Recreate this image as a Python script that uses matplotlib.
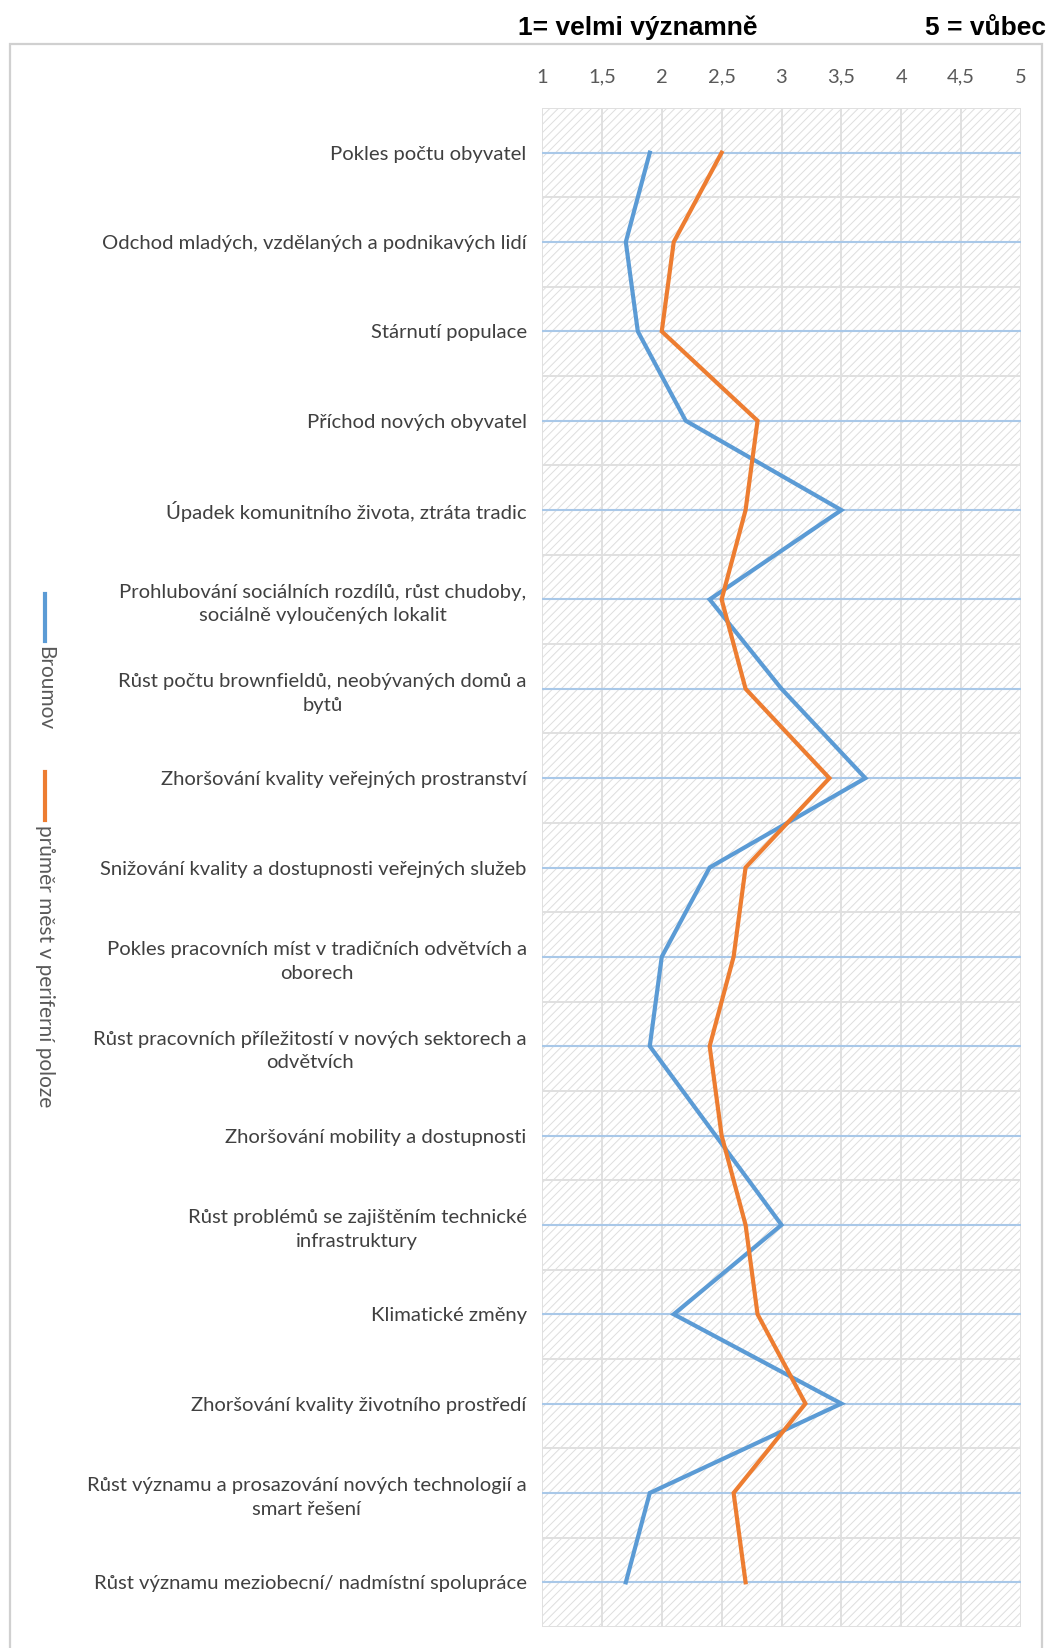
import matplotlib
matplotlib.use("Agg")
import matplotlib.pyplot as plt
from matplotlib.patches import Rectangle
from matplotlib.lines import Line2D
import numpy as np

categories = [
    "Pokles počtu obyvatel",
    "Odchod mladých, vzdělaných a podnikavých lidí",
    "Stárnutí populace",
    "Příchod nových obyvatel",
    "Úpadek komunitního života, ztráta tradic",
    "Prohlubování sociálních rozdílů, růst chudoby,\nsociálně vyloučených lokalit",
    "Růst počtu brownfieldů, neobývaných domů a\nbytů",
    "Zhoršování kvality veřejných prostranství",
    "Snižování kvality a dostupnosti veřejných služeb",
    "Pokles pracovních míst v tradičních odvětvích a\noborech",
    "Růst pracovních příležitostí v nových sektorech a\nodvětvích",
    "Zhoršování mobility a dostupnosti",
    "Růst problémů se zajištěním technické\ninfrastruktury",
    "Klimatické změny",
    "Zhoršování kvality životního prostředí",
    "Růst významu a prosazování nových technologií a\nsmart řešení",
    "Růst významu meziobecní/ nadmístní spolupráce",
]
broumov = [1.9, 1.7, 1.8, 2.2, 3.5, 2.4, 3.0, 3.7, 2.4, 2.0, 1.9, 2.45, 3.0, 2.1, 3.5, 1.9, 1.7]
prumer = [2.5, 2.1, 2.0, 2.8, 2.7, 2.5, 2.7, 3.4, 2.7, 2.6, 2.4, 2.5, 2.7, 2.8, 3.2, 2.6, 2.7]
x_ticks = [1, 1.5, 2, 2.5, 3, 3.5, 4, 4.5, 5]
x_labels = ["1", "1,5", "2", "2,5", "3", "3,5", "4", "4,5", "5"]

W, H = 1049, 1648
fig = plt.figure(figsize=(W / 100, H / 100), dpi=100)
plt.rcParams['hatch.color'] = '#dedede'
plt.rcParams['hatch.linewidth'] = 0.7

# outer frame
fig.patches.append(Rectangle((10 / W, -0.01), 1032 / W, 1 - 44 / H + 0.01,
                             transform=fig.transFigure, fill=False,
                             edgecolor='#d0d0d0', lw=1.6))

ax = fig.add_axes([542 / W, 1 - 1627 / H, 479 / W, 1519 / H])
y = np.arange(len(categories))

ax.add_patch(Rectangle((1, -0.5), 4, len(categories), facecolor='white',
                       hatch='////', edgecolor='#dedede', lw=0, zorder=0))

for xv in x_ticks:
    ax.axvline(xv, color='#e0e0e0', lw=1.4, zorder=1)
for yv in np.arange(-0.5, len(categories), 1.0):
    ax.axhline(yv, color='#e0e0e0', lw=1.4, zorder=1)
for yv in y:
    ax.axhline(yv, color='#a9c8e8', lw=1.5, zorder=1)

ax.plot(broumov, y, color='#5b9bd5', lw=3, zorder=3, solid_joinstyle='miter')
ax.plot(prumer, y, color='#ed7d31', lw=3, zorder=3, solid_joinstyle='miter')

ax.set_xlim(1, 5)
ax.set_ylim(len(categories) - 0.5, -0.5)
ax.xaxis.tick_top()
ax.set_xticks(x_ticks)
ax.set_xticklabels(x_labels)
ax.set_yticks(y)
ax.set_yticklabels(categories)
ax.tick_params(axis='x', length=0, pad=16, labelsize=14.5, labelcolor='#595959')
ax.tick_params(axis='y', length=0, pad=11, labelsize=14.6, labelcolor='#404040')
for t in ax.get_xticklabels() + ax.get_yticklabels():
    t.set_family('Lato')
for t in ax.get_yticklabels():
    t.set_multialignment('center')
    t.set_linespacing(1.45)
for s in ax.spines.values():
    s.set_visible(False)

# titles
fig.text(518 / W, 1 - 28 / H, "1= velmi významně", family='Liberation Sans',
         weight='bold', fontsize=19, ha='left', va='center')
fig.text(1046 / W, 1 - 28 / H, "5 = vůbec", family='Liberation Sans',
         weight='bold', fontsize=19, ha='right', va='center')

# vertical legend
fig.lines.append(Line2D([45 / W, 45 / W], [1 - 594 / H, 1 - 641 / H],
                        transform=fig.transFigure, color='#5b9bd5', lw=3))
fig.text(45 / W, 1 - 646 / H, "Broumov", rotation=-90, family='Lato',
         fontsize=15, color='#595959', ha='center', va='top')
fig.lines.append(Line2D([45 / W, 45 / W], [1 - 772 / H, 1 - 820 / H],
                        transform=fig.transFigure, color='#ed7d31', lw=3))
fig.text(45 / W, 1 - 825 / H, "průměr měst v periferní poloze", rotation=-90,
         family='Lato', fontsize=15, color='#595959', ha='center', va='top')

fig.savefig("out.png", dpi=100)
